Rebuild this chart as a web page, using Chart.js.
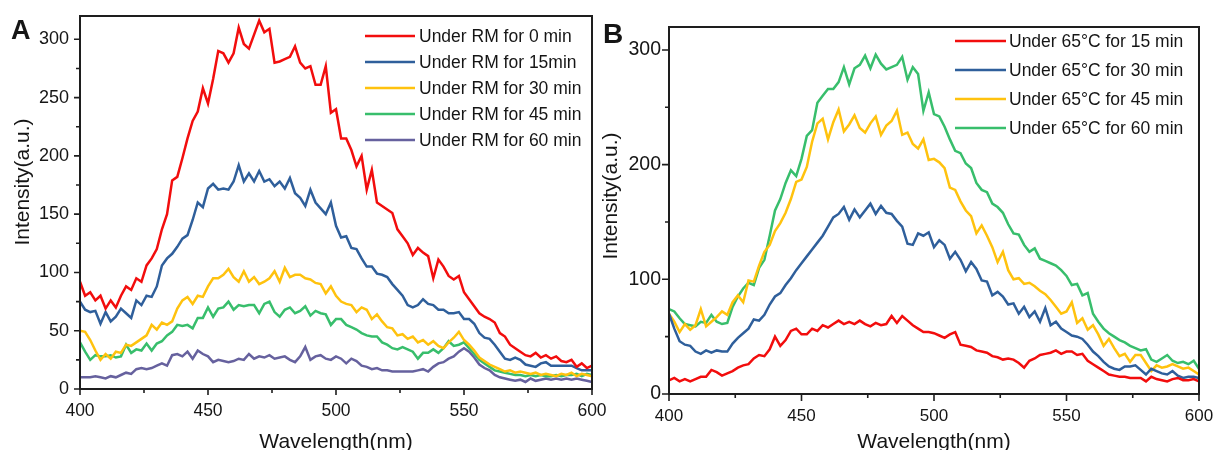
<!DOCTYPE html>
<html>
<head>
<meta charset="utf-8">
<script src="https://cdn.jsdelivr.net/npm/chart.js@4.4.0/dist/chart.umd.min.js"></script>
<style>
html,body{margin:0;padding:0;background:#fff;}
#wrap{position:relative;width:1215px;height:450px;overflow:hidden;background:#fff;}
#ca{position:absolute;left:0;top:0;}
#cb{position:absolute;left:600px;top:0;}
</style>
</head>
<body>
<div id="wrap">
<canvas id="ca" width="620" height="450"></canvas>
<canvas id="cb" width="615" height="450"></canvas>
</div>
<script>
// ---------- data ----------
const wavelengths = [400,402,404,406,408,410,412,414,416,418,420,422,424,426,428,430,432,434,436,438,440,442,444,446,448,450,452,454,456,458,460,462,464,466,468,470,472,474,476,478,480,482,484,486,488,490,492,494,496,498,500,502,504,506,508,510,512,514,516,518,520,522,524,526,528,530,532,534,536,538,540,542,544,546,548,550,552,554,556,558,560,562,564,566,568,570,572,574,576,578,580,582,584,586,588,590,592,594,596,598,600];

const xTicks = [400,450,500,550,600];
const yTicksA = [0,50,100,150,200,250,300];
const yTicksB = [0,100,200,300];

const labelsA = ['Under RM for 0 min','Under RM for 15min','Under RM for 30 min','Under RM for 45 min','Under RM for 60 min'];
const labelsB = ['Under 65\u00B0C for 15 min','Under 65\u00B0C for 30 min','Under 65\u00B0C for 45 min','Under 65\u00B0C for 60 min'];

const rm0 = [92,80,83,76,80,69,76,70,80,88,85,
95,92,106,112,120,137,150,179,182,198,
215,230,238,258,245,266,290,288,280,288,
310,296,292,304,316,306,309,280,281,283,
285,294,280,275,277,261,261,277,237,240,
215,215,205,191,200,171,188,160,157,154,
151,137,131,125,115,121,117,114,95,111,
105,97,94,97,83,77,71,65,62,60,
57,48,45,38,35,32,29,28,31,27,
29,26,28,24,23,25,19,22,18,20];

const rm15 = [75,68,66,67,56,66,58,62,69,65,61,
76,72,80,79,88,106,112,116,122,129,
132,145,160,156,172,176,171,172,171,178,
192,178,185,178,187,178,180,174,178,172,
181,168,164,157,171,160,155,150,160,140,
130,131,121,120,112,105,105,99,98,96,
90,85,80,72,70,72,77,73,72,68,
68,65,65,66,60,60,56,48,44,43,
38,32,26,25,27,25,21,20,19,22,
23,20,20,20,20,20,18,16,16,16];

const rm30 = [50,49,42,33,25,30,26,32,31,38,37,
40,43,46,55,51,57,55,58,69,76,
79,73,80,79,88,95,95,98,103,96,
92,101,92,96,90,92,95,101,92,104,
96,98,98,95,94,91,90,82,88,80,
75,73,72,66,70,68,60,64,58,53,
52,46,47,43,45,40,42,38,41,37,
35,40,44,49,42,38,33,27,24,21,
19,17,15,16,14,15,14,13,14,12,
13,12,11,13,12,14,11,13,12,11];

const rm45 = [40,32,25,29,28,28,29,27,28,38,31,
34,33,39,33,39,41,46,49,55,54,
55,52,61,61,70,62,69,70,75,68,
72,71,72,72,65,73,75,66,62,68,
70,65,67,71,63,67,65,64,55,60,
60,55,53,51,48,46,45,45,40,38,
35,34,36,34,32,26,31,31,34,31,
35,41,37,38,40,35,30,25,22,19,
16,15,14,13,12,12,11,12,11,12,
11,11,12,11,12,12,13,11,13,12];

const rm60 = [10,10,10,11,10,9,11,10,12,14,13,
17,18,17,18,20,22,20,29,30,28,
32,26,33,30,28,23,25,24,23,24,
26,25,30,26,28,27,29,26,27,28,
25,23,28,36,25,28,29,26,25,28,
26,22,26,24,20,19,17,18,16,16,
15,15,15,15,15,16,17,15,19,22,
23,26,28,32,35,32,27,21,18,16,
12,10,9,8,7,8,6,9,7,8,
9,8,9,8,9,8,9,8,7,6];

const heat15 = [12,14,11,13,11,13,15,15,21,19,16,
18,20,23,25,26,31,34,33,39,50,
42,47,55,57,52,52,57,55,60,58,
61,64,61,63,61,64,61,59,62,60,
61,68,62,68,64,60,57,54,54,53,
51,49,52,54,43,42,41,38,37,36,
33,32,30,31,30,27,23,29,31,34,
35,36,38,35,37,37,34,35,29,26,
23,20,17,16,15,15,14,14,14,11,
15,13,12,11,13,14,12,12,13,11];

const heat30 = [70,57,46,43,42,37,35,38,36,38,37,
37,44,49,53,57,65,64,69,78,85,
88,95,101,108,114,120,126,132,138,146,
154,157,163,152,161,154,160,166,157,164,
158,157,151,146,131,130,140,138,141,128,
134,130,118,124,117,107,115,109,99,98,
86,89,85,78,79,70,76,67,72,63,
75,60,63,57,54,51,50,48,43,37,
33,28,24,22,21,24,24,25,21,17,
22,20,18,17,20,16,14,15,15,14];

const heat45 = [70,63,54,61,56,60,74,59,63,67,72,
69,80,86,80,99,98,112,124,130,142,
149,158,170,185,187,198,220,236,240,222,
237,248,229,235,243,232,228,236,242,226,
234,238,247,226,228,218,214,222,204,205,
202,197,180,178,168,160,155,140,147,138,
128,115,124,108,100,101,96,97,94,90,
87,82,76,70,72,80,62,66,56,60,
52,42,48,40,33,35,28,34,34,27,
20,25,23,24,26,24,22,23,20,17];

const heat60 = [74,72,66,61,60,59,63,62,69,63,61,
62,76,85,92,97,95,110,117,138,160,
170,184,195,190,205,225,230,254,260,266,
266,272,285,270,284,287,295,284,296,288,
283,285,287,294,274,285,279,247,263,244,
242,233,222,212,210,201,197,184,178,176,
166,163,158,148,140,139,130,124,127,118,
116,114,112,108,103,95,96,86,88,70,
63,57,53,50,47,45,42,40,38,39,
30,28,31,34,29,27,28,26,29,22];

// ---------- styling ----------
const FONT = "'Liberation Sans', Arial, sans-serif";
const TEXT = '#151515';
const RED = '#F20D0D', BLUE = '#2F5F9B', YELLOW = '#FFC20E', GREEN = '#38BE6C', PURPLE = '#66619E';

const decor = {
  id: 'decor',
  afterDraw(chart, args, o) {
    const {ctx, chartArea: a, scales: {x, y}} = chart;
    ctx.save();
    // minor/major tick marks (outward)
    ctx.strokeStyle = '#1e1e1e';
    ctx.lineWidth = 1.6;
    ctx.beginPath();
    for (let v = x.min; v <= x.max + 1e-9; v += o.xMinor) {
      const px = x.getPixelForValue(v);
      const len = xTicks.includes(v) ? o.majorLen : o.minorLen;
      ctx.moveTo(px, a.bottom); ctx.lineTo(px, a.bottom + len);
    }
    for (let v = y.min; v <= y.max + 1e-9; v += o.yMinor) {
      const py = y.getPixelForValue(v);
      const len = o.yMajorList.includes(v) ? o.majorLen : o.minorLen;
      ctx.moveTo(a.left, py); ctx.lineTo(a.left - len, py);
    }
    ctx.stroke();
    // frame
    ctx.lineWidth = 2;
    ctx.strokeRect(a.left, a.top, a.right - a.left, a.bottom - a.top);
    // legend
    const L = o.legend;
    ctx.font = L.size + 'px ' + FONT;
    ctx.textBaseline = 'alphabetic';
    ctx.textAlign = 'left';
    chart.data.datasets.forEach((ds, i) => {
      const yy = L.y + i * L.dy;
      ctx.strokeStyle = ds.borderColor;
      ctx.lineWidth = ds.borderWidth;
      ctx.beginPath(); ctx.moveTo(L.x1, yy); ctx.lineTo(L.x2, yy); ctx.stroke();
      ctx.fillStyle = TEXT;
      ctx.fillText(ds.label, L.tx, yy + L.size * 0.36);
    });
    // axis titles
    ctx.fillStyle = TEXT;
    ctx.font = o.titleSize + 'px ' + FONT;
    ctx.textAlign = 'center';
    ctx.textBaseline = 'alphabetic';
    ctx.fillText(o.xTitle, (a.left + a.right) / 2, o.xTitleY);
    ctx.save();
    ctx.translate(o.yTitleX, o.yTitleY);
    ctx.rotate(-Math.PI / 2);
    ctx.textBaseline = 'middle';
    ctx.fillText(o.yTitle, 0, 0);
    ctx.restore();
    // panel letter
    ctx.font = 'bold ' + o.letterSize + 'px ' + FONT;
    ctx.textAlign = 'left';
    ctx.textBaseline = 'alphabetic';
    ctx.fillText(o.letter, o.letterX, o.letterY);
    ctx.restore();
  }
};

function makeChart(id, c) {
  const datasets = c.series.map((vals, i) => ({
    label: c.labels[i],
    data: wavelengths.map((w, k) => ({x: w, y: vals[k]})),
    borderColor: c.colors[i],
    backgroundColor: c.colors[i],
    borderWidth: 2.5,
    pointRadius: 0,
    tension: 0,
    fill: false
  }));
  return new Chart(document.getElementById(id), {
    type: 'line',
    data: {datasets},
    plugins: [decor],
    options: {
      responsive: false,
      animation: false,
      events: [],
      layout: {padding: {left: 0, top: c.area.top, right: c.W - c.area.right, bottom: 0}},
      plugins: {
        legend: {display: false},
        tooltip: {enabled: false},
        decor: c.decor
      },
      scales: {
        x: {
          type: 'linear', min: 400, max: 600,
          grid: {display: false, drawTicks: false},
          border: {display: false},
          ticks: {stepSize: 50, includeBounds: false, padding: 12, color: TEXT,
                  font: {family: FONT, size: c.xTickSize},
                  callback: v => xTicks.includes(v) ? String(v) : ''},
          afterFit: s => { s.height = c.H - c.area.bottom; s.paddingLeft = 0; s.paddingRight = 0; }
        },
        y: {
          type: 'linear', min: 0, max: 320,
          grid: {display: false, drawTicks: false},
          border: {display: false},
          ticks: {stepSize: c.yStep, includeBounds: false, padding: c.yPad, color: TEXT,
                  font: {family: FONT, size: c.yTickSize},
                  callback: v => c.yTicks.includes(v) ? String(v) : ''},
          afterFit: s => { s.width = c.area.left; s.paddingTop = 0; s.paddingBottom = 0; }
        }
      }
    }
  });
}

makeChart('ca', {
  W: 620, H: 450,
  area: {left: 80, right: 592, top: 16, bottom: 389},
  series: [rm0, rm15, rm30, rm45, rm60],
  labels: labelsA,
  colors: [RED, BLUE, YELLOW, GREEN, PURPLE],
  yStep: 50, yTicks: yTicksA, yPad: 11, xTickSize: 17.5, yTickSize: 18,
  decor: {
    xMinor: 25, yMinor: 25, yMajorList: yTicksA, majorLen: 6, minorLen: 4,
    legend: {x1: 365, x2: 415, tx: 419, y: 36, dy: 26, size: 17.5},
    titleSize: 21, xTitle: 'Wavelength(nm)', xTitleY: 448,
    yTitle: 'Intensity(a.u.)', yTitleX: 23, yTitleY: 182,
    letter: 'A', letterSize: 27, letterX: 11, letterY: 39
  }
});

makeChart('cb', {
  W: 615, H: 450,
  area: {left: 69, right: 599, top: 27, bottom: 394},
  series: [heat15, heat30, heat45, heat60],
  labels: labelsB,
  colors: [RED, BLUE, YELLOW, GREEN],
  yStep: 50, yTicks: yTicksB, yPad: 8, xTickSize: 17, yTickSize: 19.5,
  decor: {
    xMinor: 25, yMinor: 50, yMajorList: yTicksB, majorLen: 7, minorLen: 4,
    legend: {x1: 355, x2: 406, tx: 409, y: 41, dy: 29, size: 17.5},
    titleSize: 21, xTitle: 'Wavelength(nm)', xTitleY: 448,
    yTitle: 'Intensity(a.u.)', yTitleX: 11, yTitleY: 196,
    letter: 'B', letterSize: 28, letterX: 3, letterY: 43
  }
});
</script>
</body>
</html>
